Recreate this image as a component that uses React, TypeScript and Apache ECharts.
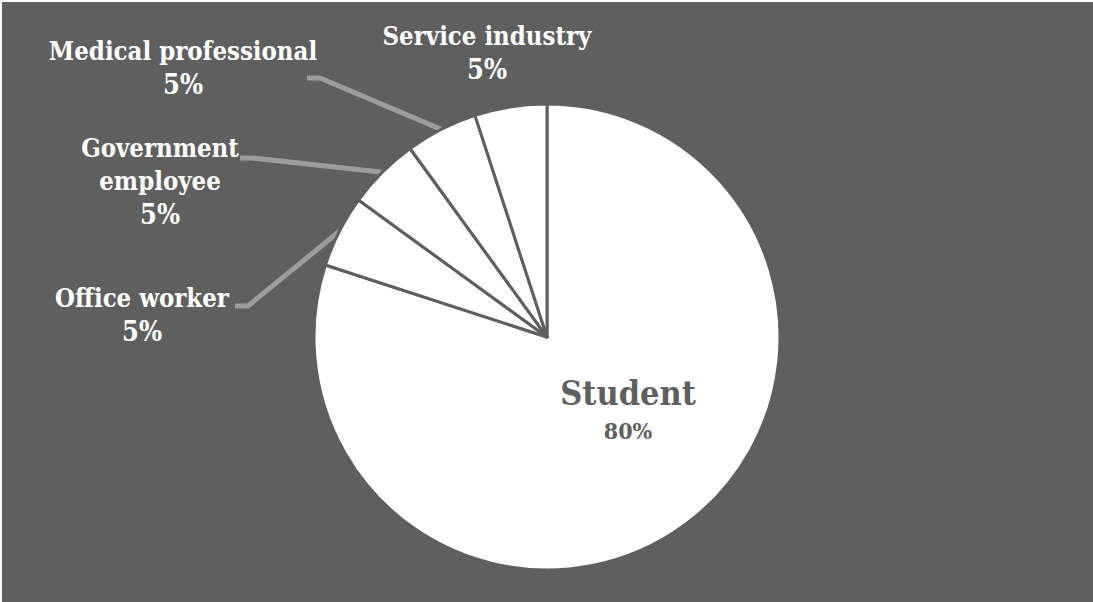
import React, { useEffect, useRef } from 'react';
import * as echarts from 'echarts';

// ---- data ----
const categories = ['Student', 'Office worker', 'Government employee', 'Medical professional', 'Service industry'];
const values = [80, 5, 5, 5, 5];
const labelTexts = ['Student', 'Office worker', 'Government\nemployee', 'Medical professional', 'Service industry'];

// ---- style / layout ----
const BG = '#5f5f5f';
const FONT = '"DejaVu Serif Condensed", "DejaVu Serif", serif';
const LINE_COLOR = '#9c9c9c';

// label block centres (chart pixels) and leader-line end points
const LABEL_POS: Record<number, { x: number; y: number; end?: [number, number] }> = {
  0: { x: 626, y: 407 },
  1: { x: 140, y: 313, end: [233, 304] },
  2: { x: 158, y: 179, end: [238, 156] },
  3: { x: 181, y: 66, end: [305, 76] },
  4: { x: 485, y: 51 },
};

export default function App() {
  const ref = useRef<HTMLDivElement>(null);

  useEffect(() => {
    if (!ref.current) return;
    const chart = echarts.init(ref.current, undefined, { renderer: 'svg' });
    chart.setOption({
      animation: false,
      backgroundColor: BG,
      series: [
        {
          type: 'pie',
          center: [545, 335],
          radius: 233,
          startAngle: 90,
          clockwise: true,
          avoidLabelOverlap: false,
          emphasis: { disabled: true },
          itemStyle: { color: '#ffffff', borderColor: BG, borderWidth: 3 },
          label: {
            show: true,
            position: 'outside',
            fontFamily: FONT,
            fontWeight: 'bold',
            formatter: (p: any) => {
              const pct = Math.round(p.percent);
              if (p.dataIndex === 0) return `{sn|${labelTexts[0]}}\n{sp|${pct}%}`;
              return `{n|${labelTexts[p.dataIndex]}}\n{p|${pct}%}`;
            },
            rich: {
              n: { fontFamily: FONT, fontWeight: 'bold', fontSize: 25.5, lineHeight: 33, color: '#ffffff', align: 'center' },
              p: { fontFamily: FONT, fontWeight: 'bold', fontSize: 27, lineHeight: 34, color: '#ffffff', align: 'center' },
              sn: { fontFamily: FONT, fontWeight: 'bold', fontSize: 34, lineHeight: 42, color: BG, align: 'center' },
              sp: { fontFamily: FONT, fontWeight: 'bold', fontSize: 23, lineHeight: 32, color: BG, align: 'center' },
            },
          },
          labelLine: {
            show: true,
            length: 10,
            length2: 10,
            lineStyle: { color: LINE_COLOR, width: 5, cap: 'butt', join: 'miter' },
          },
          labelLayout: (params: any) => {
            const pos = LABEL_POS[params.dataIndex];
            if (!pos) return {};
            const out: any = { x: pos.x, y: pos.y, align: 'center', verticalAlign: 'middle' };
            if (pos.end && params.labelLinePoints && params.labelLinePoints[0]) {
              const s = params.labelLinePoints[0];
              out.labelLinePoints = [
                [s[0], s[1]],
                [pos.end[0] + 13, pos.end[1]],
                [pos.end[0], pos.end[1]],
              ];
            }
            return out;
          },
          data: categories.map((name, i) => {
            const item: any = { name, value: values[i] };
            if (i === 0) {
              item.label = { position: 'inside' };
              item.labelLine = { show: false };
            }
            if (i === 4) item.labelLine = { show: false };
            return item;
          }),
        },
      ],
    });
    return () => chart.dispose();
  }, []);

  return (
    <div style={{ position: 'fixed', left: 0, top: 0, width: 1093, height: 602, background: '#ffffff' }}>
      <div ref={ref} style={{ position: 'absolute', left: 2, top: 2, width: 1091, height: 600 }} />
    </div>
  );
}
